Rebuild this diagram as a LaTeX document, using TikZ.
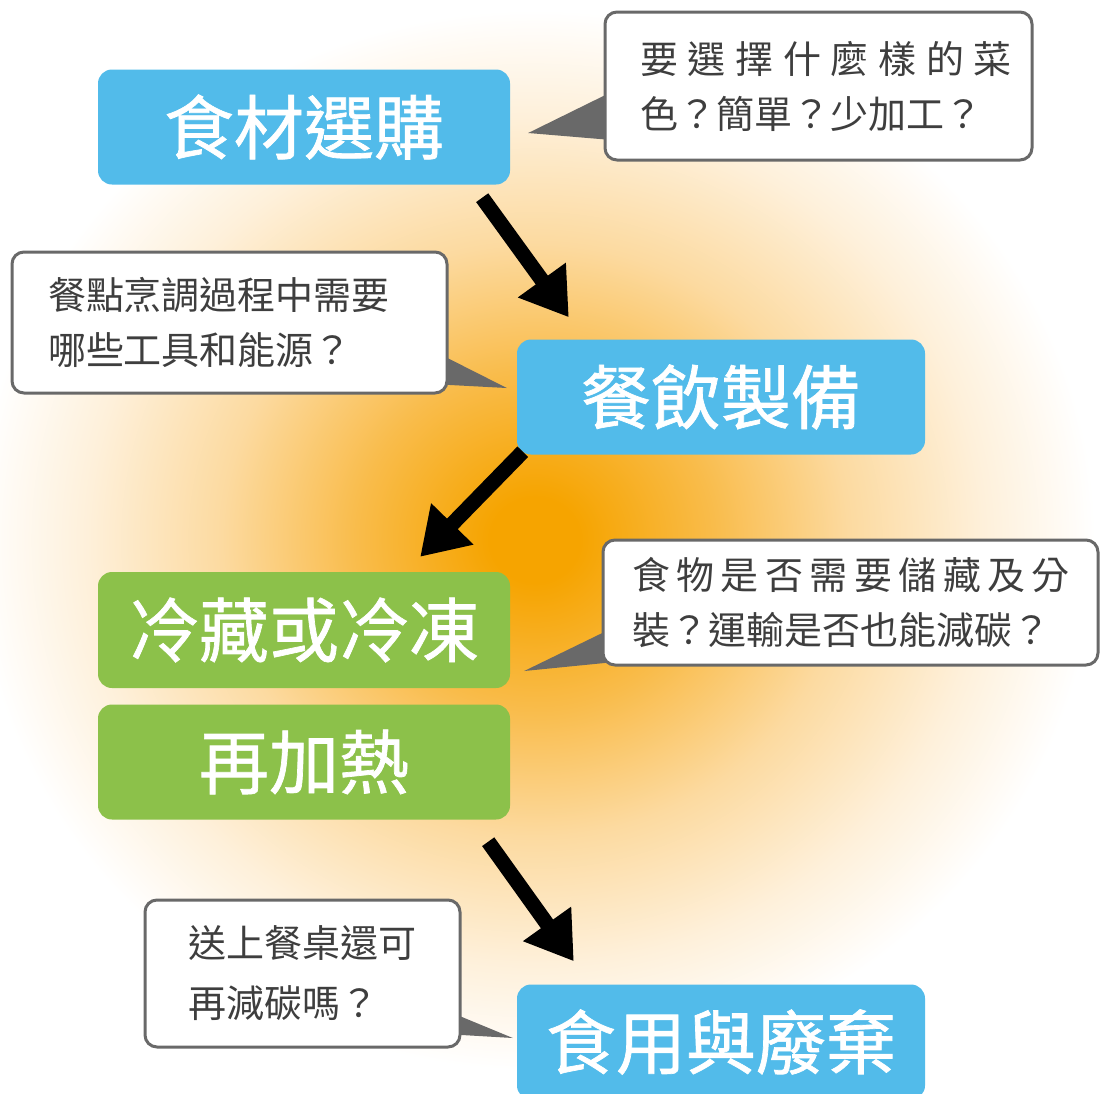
\documentclass[tikz,border=0pt]{standalone}
\usepackage{fontspec}
\newfontfamily\cjk{Noto Sans CJK TC}
\newfontfamily\cjkbox{Noto Sans CJK TC}[FakeBold=1]
\usetikzlibrary{arrows.meta,calc}
\definecolor{stepblue}{RGB}{82,187,234}
\definecolor{stepgreen}{RGB}{140,193,74}
\definecolor{calline}{RGB}{105,105,105}
\definecolor{caltext}{RGB}{62,62,62}
\definecolor{glowA}{RGB}{246,164,0}
\definecolor{glowB}{RGB}{249,188,75}
\definecolor{glowC}{RGB}{252,218,160}
\definecolor{glowD}{RGB}{254,240,218}
\pgfdeclareradialshading{glow}{\pgfpoint{0bp}{0bp}}{color(0bp)=(glowA); color(2bp)=(glowA); color(8bp)=(glowB); color(14bp)=(glowC); color(20bp)=(glowD); color(25bp)=(white); color(50bp)=(white)}
\pgfdeclarelayer{bg}
\pgfdeclarelayer{ptr}
\pgfsetlayers{bg,ptr,main}
\tikzset{
  stepbox/.style={rounded corners=14pt, text=white, inner sep=0pt,
    font=\cjkbox\fontsize{70}{80}\selectfont},
  calloutbox/.style={draw=calline, line width=3pt, fill=white, rounded corners=12pt,
    text=caltext, font=\cjk\fontsize{38}{55}\selectfont, align=left,
    inner xsep=20pt, inner ysep=0pt},
  pointer/.style={fill=calline},
  flowarrow/.style={line width=15pt, draw=black,
    -{Triangle[length=46pt,width=56pt]}}
}
\begin{document}
\begin{tikzpicture}[x=1pt,y=-1pt]
\useasboundingbox (0,0) rectangle (1101,1093);
% main steps
\node[stepbox, fill=stepblue, minimum width=412pt, minimum height=115pt] (b1) at (304,127) {食材選購};
\node[stepbox, fill=stepblue, minimum width=408pt, minimum height=115pt] (b2) at (721,397) {餐飲製備};
\node[stepbox, fill=stepgreen, minimum width=412pt, minimum height=116pt] (b3) at (304,630) {冷藏或冷凍};
\node[stepbox, fill=stepgreen, minimum width=412pt, minimum height=115pt] (b4) at (304,762) {再加熱};
\node[stepbox, fill=stepblue, minimum width=408pt, minimum height=115pt] (b5) at (721,1042) {食用與廢棄};
% callouts
\node[calloutbox, text width=387pt, minimum width=427pt, minimum height=148pt] (c1) at (818.5,86)
  {\hspace*{15pt}\makebox[372pt][s]{要\hfill 選\hfill 擇\hfill 什\hfill 麼\hfill 樣\hfill 的\hfill 菜}\\\hspace*{15pt}色？簡單？少加工？};
\node[calloutbox, text width=395pt, minimum width=435pt, minimum height=141pt] (c2) at (229.5,322.5)
  {\hspace*{16pt}餐點烹調過程中需要\\\hspace*{16pt}哪些工具和能源？};
\node[calloutbox, text width=455pt, minimum width=495pt, minimum height=125pt] (c3) at (850.5,602.5)
  {\hspace*{9pt}\makebox[438pt][s]{食\hfill 物\hfill 是\hfill 否\hfill 需\hfill 要\hfill 儲\hfill 藏\hfill 及\hfill 分}\\\hspace*{9pt}裝？運輸是否也能減碳？};
\node[calloutbox, text width=275pt, minimum width=315pt, minimum height=147pt,
  font=\cjk\fontsize{38}{60}\selectfont] (c4) at (302.5,973.5)
  {\hspace*{23pt}送上餐桌還可\\\hspace*{23pt}再減碳嗎？};
% background glow
\begin{pgfonlayer}{bg}
  \begin{scope}
    \clip (0,0) rectangle (1101,1093);
    \fill[white] (0,0) rectangle (1101,1093);
    \shade[shading=glow] (535,540) ellipse [x radius=560pt, y radius=530pt];
  \end{scope}
\end{pgfonlayer}
% callout pointers
\begin{pgfonlayer}{ptr}
  \fill[pointer] ($(c1.west)+(8,6)$) -- ($(b1.east)+(18,6)$) -- ($(c1.west)+(8,54)$) -- cycle;
  \fill[pointer] ($(c2.east)+(-8,32)$) -- ($(b2.west)+(-10,-9)$) -- ($(c2.east)+(-8,62)$) -- cycle;
  \fill[pointer] ($(c3.west)+(8,27)$) -- ($(b3.east)+(14,41)$) -- ($(c3.west)+(8,60)$) -- cycle;
  \fill[pointer] ($(c4.east)+(-8,40)$) -- ($(b5.west)+(-4,-4)$) -- ($(c4.east)+(-8,61)$) -- cycle;
\end{pgfonlayer}
% flow arrows
\draw[flowarrow] ($(b1.south east)+(-28,13)$) -- ($(b2.north west)+(52,-22)$);
\draw[flowarrow] ($(b2.south west)+(6,-3)$) -- ($(b3.north east)+(-90,-15)$);
\draw[flowarrow] ($(b4.south east)+(-22,22)$) -- ($(b5.north west)+(57,-23)$);
\end{tikzpicture}
\end{document}
